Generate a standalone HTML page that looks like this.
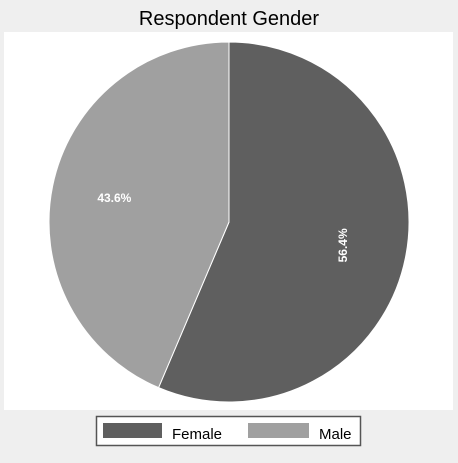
<!DOCTYPE html>
<html><head><style>
body{margin:0;background:#efefef;font-family:"Liberation Sans",sans-serif}
</style></head><body>
<svg width="458" height="458">
<rect x="0" y="0" width="458" height="458" fill="#efefef"/>
<text x="229" y="25" text-anchor="middle" font-size="20" fill="#000">Respondent Gender</text>
<rect x="4" y="32" width="449" height="378" fill="#fff"/>
<g id="slices"></g>
<rect x="96.5" y="416.5" width="264" height="29" fill="#fff" stroke="#555" stroke-width="1.5"/>
<rect x="103" y="423" width="59" height="15" fill="#5f5f5f"/>
<text x="172" y="439" font-size="15">Female</text>
<rect x="248" y="423" width="61" height="15" fill="#a0a0a0"/>
<text x="319" y="439" font-size="15">Male</text>
</svg>
<script>
const categories=["Female","Male"];
const values=[56.4,43.6];
const labels=["56.4%","43.6%"];
const colors=["#5f5f5f","#a0a0a0"];
const cx=229,cy=222,r=180;
const g=document.getElementById('slices');
const total=values.reduce((a,b)=>a+b,0);
let a0=0;
values.forEach((v,i)=>{
  const a1=a0+v/total*2*Math.PI;
  const p=a=>[cx+r*Math.sin(a),cy-r*Math.cos(a)];
  const [x0,y0]=p(a0),[x1,y1]=p(a1);
  const path=document.createElementNS('http://www.w3.org/2000/svg','path');
  path.setAttribute('d',`M${cx},${cy}L${x0},${y0}A${r},${r} 0 ${a1-a0>Math.PI?1:0} 1 ${x1},${y1}Z`);
  path.setAttribute('fill',colors[i]);
  path.setAttribute('stroke','#fff');
  path.setAttribute('stroke-width','1');
  
  
  g.appendChild(path);
  const mid=(a0+a1)/2, lr=r*0.65;
  const lx=cx+lr*Math.sin(mid), ly=cy-lr*Math.cos(mid);
  const t=document.createElementNS('http://www.w3.org/2000/svg','text');
  t.setAttribute('x',lx);t.setAttribute('y',ly);
  t.setAttribute('text-anchor','middle');t.setAttribute('dominant-baseline','middle');
  t.setAttribute('font-size','12');t.setAttribute('font-weight','bold');t.setAttribute('fill','#fff');
  if(i===0) t.setAttribute('transform',`rotate(-90 ${lx} ${ly})`);
  t.textContent=labels[i];
  
  
  g.appendChild(t);
  a0=a1;
});
</script>
</body></html>
